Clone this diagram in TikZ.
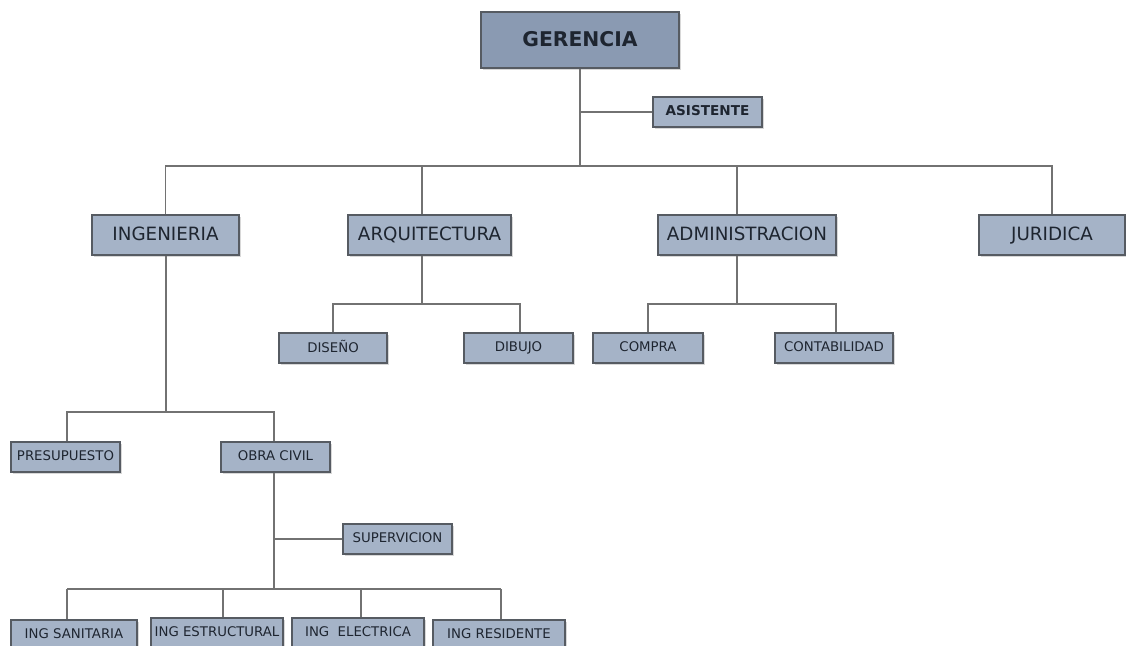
\documentclass[tikz,border=0pt]{standalone}
\usepackage{fontspec}
\setmainfont{DejaVu Sans}
\usetikzlibrary{shadows}
\definecolor{boxfill}{HTML}{A5B3C7}
\definecolor{topfill}{HTML}{8A9AB2}
\definecolor{boxline}{HTML}{565B62}
\definecolor{conn}{HTML}{727272}
\definecolor{txt}{HTML}{1E2530}
\tikzset{
  box/.style={draw=boxline, line width=1.2pt, fill=boxfill, text=txt, inner sep=0pt,
    text depth=2.5pt, drop shadow={shadow xshift=1.5pt, shadow yshift=-1.5pt, opacity=0.3}},
  bigbox/.style={box, minimum height=40pt, font=\fontsize{18.3}{18.3}\selectfont},
  smallbox/.style={box, minimum height=30pt, font=\fontsize{13.3}{13.3}\selectfont},
  topbox/.style={box, fill=topfill, minimum width=198pt, minimum height=56pt,
    font=\bfseries\fontsize{20.3}{20.3}\selectfont},
  conline/.style={draw=conn, line width=1.4pt}
}
\begin{document}
\begin{tikzpicture}[x=1pt, y=-1pt]
\useasboundingbox[fill=white] (0,0) rectangle (1126,645);
\clip (0,0) rectangle (1126,645);

% nodes
\node[topbox] (ger) at (580,40) {GERENCIA};
\node[smallbox, minimum width=109pt, font=\bfseries\fontsize{13.6}{13.6}\selectfont] (asi) at (707.5,112) {ASISTENTE};

\node[bigbox, minimum width=147pt] (ing) at (165.5,235) {INGENIERIA};
\node[bigbox, minimum width=163pt] (arq) at (429.5,235) {ARQUITECTURA};
\node[bigbox, minimum width=178pt] (adm) at (747,235) {ADMINISTRACION};
\node[bigbox, minimum width=146pt] (jur) at (1052,235) {JURIDICA};

\node[smallbox, minimum width=108pt] (dis) at (333,348) {DISEÑO};
\node[smallbox, minimum width=109pt] (dib) at (518.5,348) {DIBUJO};
\node[smallbox, minimum width=110pt] (com) at (648,348) {COMPRA};
\node[smallbox, minimum width=118pt] (con) at (834,348) {CONTABILIDAD};

\node[smallbox, minimum width=109pt] (pre) at (65.5,457) {PRESUPUESTO};
\node[smallbox, minimum width=109pt] (obr) at (275.5,457) {OBRA CIVIL};
\node[smallbox, minimum width=109pt] (sup) at (397.5,539) {SUPERVICION};

\node[smallbox, minimum width=126pt] (san) at (74,635) {ING SANITARIA};
\node[smallbox, minimum width=132pt] (est) at (217,633) {ING ESTRUCTURAL};
\node[smallbox, minimum width=132pt] (ele) at (358,633) {ING\ \ ELECTRICA};
\node[smallbox, minimum width=132pt] (res) at (499,635) {ING RESIDENTE};

% junction coordinates
\coordinate (bus) at (580,166);
\coordinate (arqj) at (422,304);
\coordinate (admj) at (737,304);
\coordinate (ingj) at (166,412);
\coordinate (supj) at (274,539);
\coordinate (botj) at (274,589);
\coordinate (d1) at (67,589);
\coordinate (d2) at (223,589);
\coordinate (d3) at (361,589);
\coordinate (d4) at (501,589);

% connectors
\draw[conline] (ger.south) -- (bus);
\draw[conline] (ger.south |- asi.west) -- (asi.west);
\draw[conline] (ing.north) |- (bus) -| (jur.north);
\draw[conline] (arqj |- arq.north) -- (arqj |- bus);
\draw[conline] (admj |- adm.north) -- (admj |- bus);

\draw[conline] (arqj |- arq.south) -- (arqj);
\draw[conline] (dis.north) |- (arqj) -| ([xshift=1.5pt]dib.north);
\draw[conline] (admj |- adm.south) -- (admj);
\draw[conline] (com.north) |- (admj) -| ([xshift=2pt]con.north);

\draw[conline] (ingj |- ing.south) -- (ingj);
\draw[conline] ([xshift=1.5pt]pre.north) |- (ingj) -| ([xshift=-1.5pt]obr.north);

\draw[conline] (botj |- obr.south) -- (botj);
\draw[conline] (supj) -- (sup.west);
\draw[conline] (d1) -- (d4);
\draw[conline] (d1) -- (d1 |- san.north);
\draw[conline] (d2) -- (d2 |- est.north);
\draw[conline] (d3) -- (d3 |- ele.north);
\draw[conline] (d4) -- (d4 |- res.north);
\end{tikzpicture}
\end{document}
